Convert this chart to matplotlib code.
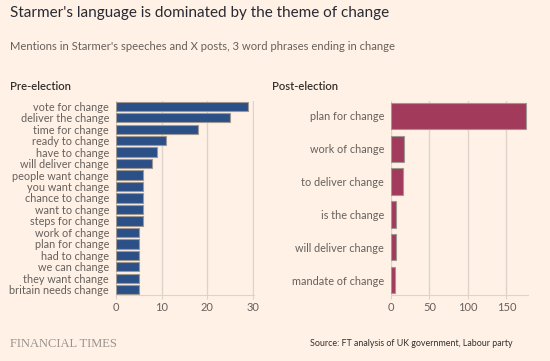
import matplotlib
matplotlib.use("Agg")
import matplotlib.pyplot as plt
import numpy as np

plt.rcParams['font.family'] = ['Lato', 'DejaVu Sans']

pre_labels = ["vote for change", "deliver the change", "time for change", "ready to change",
              "have to change", "will deliver change", "people want change", "you want change",
              "chance to change", "want to change", "steps for change", "work of change",
              "plan for change", "had to change", "we can change", "they want change",
              "britain needs change"]
pre_values = [29, 25, 18, 11, 9, 8, 6, 6, 6, 6, 6, 5, 5, 5, 5, 5, 5]
pre_ticks = [0, 10, 20, 30]

post_labels = ["plan for change", "work of change", "to deliver change", "is the change",
               "will deliver change", "mandate of change"]
post_values = [175, 17, 15, 6, 6, 5]
post_ticks = [0, 50, 100, 150]

bg = "#fff1e5"
text_col = "#33302e"
tick_col = "#66605c"
grid_col = "#dcd3ca"

fig = plt.figure(figsize=(5.5, 3.61), dpi=100, facecolor=bg)

fig.text(10/550, 1-13/361, "Starmer's language is dominated by the theme of change",
         fontsize=11, color="#262a33", va='center', ha='left')
fig.text(10/550, 1-47/361, "Mentions in Starmer's speeches and X posts, 3 word phrases ending in change",
         fontsize=8.1, color=tick_col, va='center', ha='left')
fig.text(10/550, 1-86/361, "Pre-election", fontsize=8.1, fontweight='semibold', color=text_col, va='center')
fig.text(272/550, 1-86/361, "Post-election", fontsize=8.1, fontweight='semibold', color=text_col, va='center')


def panel(rect, labels, values, ticks, xmax, color):
    ax = fig.add_axes(rect, facecolor=bg)
    y = np.arange(len(labels))
    ax.barh(y, values, height=0.8, color=color, edgecolor="#9e9792", linewidth=0.8, zorder=3)
    ax.set_yticks(y)
    ax.set_yticklabels(labels)
    ax.set_ylim(len(labels) - 0.55, -0.45)
    ax.set_xlim(0, xmax)
    ax.set_xticks(ticks)
    ax.grid(axis='x', color=grid_col, linewidth=1, zorder=0)
    for s in ax.spines.values():
        s.set_visible(False)
    ax.spines['bottom'].set_visible(True)
    ax.spines['bottom'].set_color(grid_col)
    ax.tick_params(axis='y', length=0, pad=5, labelsize=7.8, labelcolor=tick_col)
    ax.tick_params(axis='x', length=3, color=grid_col, pad=2, labelsize=8, labelcolor=tick_col)
    return ax


panel([116/550, 1-295/361, 138/550, 194/361], pre_labels, pre_values, pre_ticks, 30.3, "#2b5087")
panel([391/550, 1-295/361, 137/550, 194/361], post_labels, post_values, post_ticks, 178, "#a23b5b")

fig.text(10/550, 1-344/361, "FINANCIAL TIMES", fontsize=9, family='Liberation Serif',
         color="#9a928c", va='center', ha='left')
fig.text(513/550, 1-344/361, "Source: FT analysis of UK government, Labour party",
         fontsize=6.4, color=text_col, va='center', ha='right')

fig.savefig("out.png", dpi=100, facecolor=bg)
